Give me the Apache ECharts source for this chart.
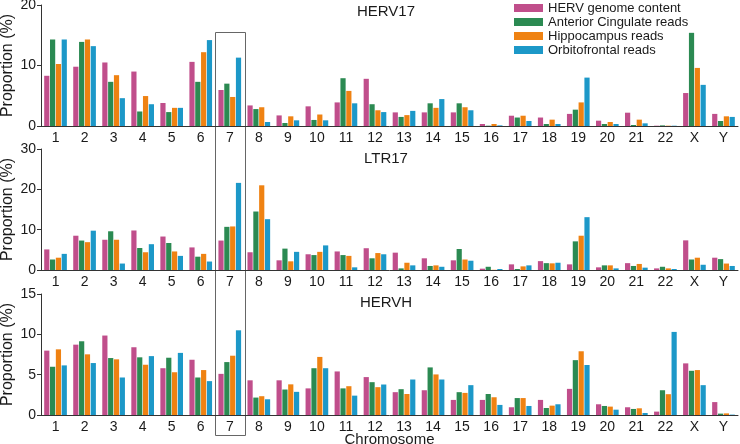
<!DOCTYPE html>
<html><head><meta charset="utf-8">
<script src="https://cdn.jsdelivr.net/npm/echarts@6/dist/echarts.min.js"></script>
<style>html,body{margin:0;padding:0;background:#fff}#c{width:740px;height:444px}</style>
</head><body><div id="c"></div>
<script>
var chromosomes = ['1','2','3','4','5','6','7','8','9','10','11','12','13','14','15','16','17','18','19','20','21','22','X','Y'];
var seriesNames = ['HERV genome content','Anterior Cingulate reads','Hippocampus reads','Orbitofrontal reads'];
var panelTitles = ['HERV17','LTR17','HERVH'];
var yMax = [20, 30, 15];
var yStep = [10, 10, 5];

// HERV17
var herv17Genome = [8.3,9.8,10.5,9.0,3.8,10.6,5.95,3.4,1.75,3.25,3.9,7.8,2.25,2.25,2.25,0.33,1.7,1.4,2.0,0.88,2.2,0.05,5.45,2.0];
var herv17AC     = [14.3,13.9,7.3,2.4,2.3,7.3,7.0,2.8,0.5,1.0,7.9,3.6,1.5,3.75,3.75,0.05,1.4,0.33,2.7,0.33,0.17,0.1,15.4,0.83];
var herv17Hippo  = [10.25,14.3,8.4,4.95,3.0,12.2,4.8,3.1,1.6,1.9,5.8,2.6,1.8,3.0,3.1,0.33,1.7,1.05,3.9,0.66,1.05,0.05,9.6,1.6];
var herv17Orbito = [14.3,13.2,4.6,3.6,3.0,14.2,11.3,0.66,0.94,0.94,3.75,2.3,2.5,4.45,2.6,0.1,0.83,0.33,8.0,0.33,0.44,0.05,6.8,1.5];
// LTR17
var ltr17Genome = [5.1,8.5,7.5,9.8,8.3,5.6,7.3,4.4,2.4,3.9,4.6,5.4,4.3,2.9,2.4,0.33,1.4,2.2,1.4,0.66,1.7,0.4,7.35,3.05];
var ltr17AC     = [2.6,7.3,9.6,5.45,6.7,3.3,10.7,14.5,5.3,3.7,3.7,2.9,0.4,1.0,5.2,0.8,0.25,1.7,7.1,1.15,1.0,0.8,2.6,2.7];
var ltr17Hippo  = [3.05,6.9,7.5,4.4,4.6,4.0,10.8,21.0,2.15,4.5,3.5,4.2,1.8,1.15,2.6,0.05,0.9,1.65,8.5,1.15,1.5,0.4,3.05,1.6];
var ltr17Orbito = [4.0,9.75,1.6,6.4,3.5,2.1,21.6,12.6,4.5,6.1,0.66,3.9,1.15,0.8,2.3,0.25,1.15,1.8,13.1,0.4,0.58,0.25,1.3,1.0];
// HERVH
var hervhGenome = [7.98,8.72,9.85,8.4,5.8,6.85,5.1,4.3,4.3,3.3,5.4,4.7,2.83,3.07,1.87,1.87,0.96,1.87,3.24,1.33,0.96,0.42,6.4,1.6];
var hervhAC     = [5.98,9.14,7.06,7.15,7.1,4.65,6.56,2.16,3.16,5.8,3.3,4.07,3.2,5.9,2.83,2.6,2.1,0.87,6.8,1.12,0.75,3.07,5.48,0.17];
var hervhHippo  = [8.14,7.52,6.9,6.23,5.3,5.57,7.35,2.33,3.8,7.2,3.57,3.45,2.6,5.03,2.74,2.2,2.1,1.16,7.9,1.04,0.83,2.58,5.57,0.2];
var hervhOrbito = [6.15,6.44,4.65,7.3,7.7,4.2,10.5,1.95,2.87,5.8,2.4,3.78,4.4,4.4,3.7,1.25,1.12,1.33,6.2,0.66,0.25,10.3,3.7,0.05];

var panels = [
  [herv17Genome, herv17AC, herv17Hippo, herv17Orbito],
  [ltr17Genome, ltr17AC, ltr17Hippo, ltr17Orbito],
  [hervhGenome, hervhAC, hervhHippo, hervhOrbito]
];
var colors = ['#c04e8b','#2b8a52','#ef8212','#1c98c8'];
var FONT = 'Liberation Sans, Arial, sans-serif';

var grids = [
  {left:41, width:697, top:5, height:121, outerBoundsMode:'none', containLabel:false},
  {left:41, width:697, top:149, height:121, outerBoundsMode:'none', containLabel:false},
  {left:41, width:697, top:294, height:121, outerBoundsMode:'none', containLabel:false}
];
var xAxes = [], yAxes = [], series = [], titles = [];
var titleTops = [-1, 146, 290];
for (var p = 0; p < 3; p++) {
  xAxes.push({
    type:'category', gridIndex:p, data:chromosomes,
    axisLine:{lineStyle:{color:'#333', width:1}},
    axisTick:{show:false},
    axisLabel:{color:'#1a1a1a', fontSize:14, fontFamily:FONT, margin:5, interval:0},
    name: p === 2 ? 'Chromosome' : '',
    nameLocation:'middle', nameGap:17, nameMoveOverlap:false,
    nameTextStyle:{color:'#1a1a1a', fontSize:15, fontFamily:FONT, verticalAlign:'top'}
  });
  yAxes.push({
    type:'value', gridIndex:p, min:0, max:yMax[p], interval:yStep[p],
    axisLine:{show:true, lineStyle:{color:'#333', width:1}},
    axisTick:{show:true, length:4, lineStyle:{color:'#333'}},
    splitLine:{show:false},
    axisLabel:{color:'#1a1a1a', fontSize:14, fontFamily:FONT, margin:5},
    name:'Proportion (%)', nameLocation:'middle', nameGap:25, nameMoveOverlap:false,
    nameTextStyle:{color:'#1a1a1a', fontSize:16, fontFamily:FONT}
  });
  titles.push({
    text: panelTitles[p], left: 381, top: titleTops[p], textAlign:'center',
    textStyle:{fontSize:15, fontWeight:'normal', color:'#1a1a1a', fontFamily:FONT}
  });
  for (var s = 0; s < 4; s++) {
    series.push({
      type:'bar', name: seriesNames[s], xAxisIndex:p, yAxisIndex:p,
      data: panels[p][s], barWidth:5.2, barGap:'12%',
      itemStyle:{color:colors[s]}, animation:false
    });
  }
}

var chart = echarts.init(document.getElementById('c'), null, {renderer:'canvas'});
chart.setOption({
  animation:false,
  color:colors,
  title:titles,
  legend:{
    data:seriesNames, orient:'vertical', left:514, top:1, padding:0,
    itemWidth:29, itemHeight:8, itemGap:0,
    icon:'rect',
    textStyle:{fontSize:13, lineHeight:14, color:'#1a1a1a', fontFamily:FONT}
  },
  grid:grids, xAxis:xAxes, yAxis:yAxes, series:series
});

// Box around chromosome 7 spanning all panels, positioned from the axes
var c7top = chart.convertToPixel({xAxisIndex:0, yAxisIndex:0}, ['7', 15.5]);
var c7bot = chart.convertToPixel({xAxisIndex:2, yAxisIndex:2}, ['7', 0]);
var c8 = chart.convertToPixel({xAxisIndex:0, yAxisIndex:0}, ['8', 0]);
var band = c8[0] - c7top[0];
chart.setOption({
  graphic:[{
    type:'rect', silent:true,
    shape:{x: Math.round(c7top[0] - band/2) + 0.5, y: Math.round(c7top[1]) + 0.5,
           width: Math.round(band) + 1, height: Math.round(c7bot[1] - c7top[1] + 20)},
    style:{fill:'none', stroke:'#666', lineWidth:1}
  }]
});
</script>
</body></html>
